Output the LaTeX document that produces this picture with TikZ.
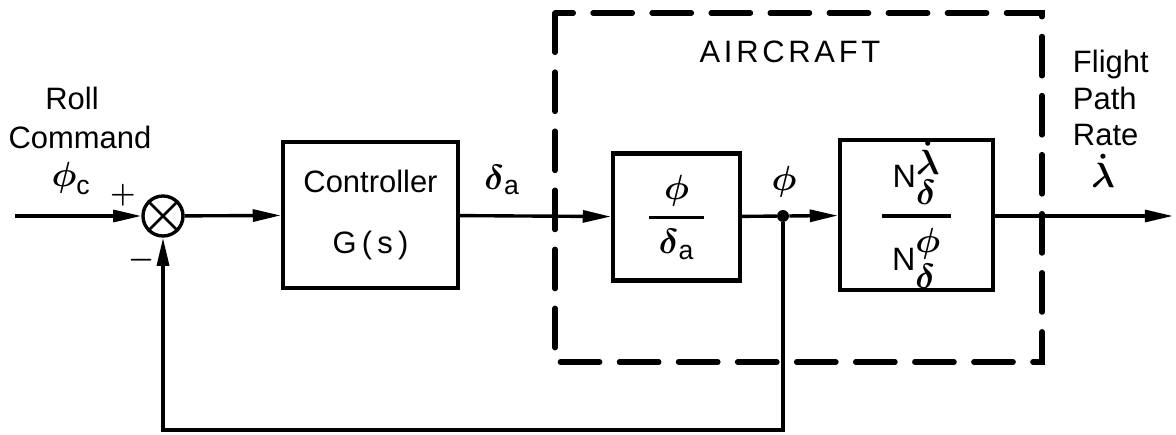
\documentclass[tikz,border=0pt]{standalone}
\usepackage{amsmath}
\usepackage{fontspec}
\setmainfont{Liberation Sans}
\usetikzlibrary{arrows.meta}
\usetikzlibrary{positioning}

\tikzset{
  block/.style={draw, line width=3pt, inner sep=0pt},
  signal/.style={line width=2.4pt, -{Triangle[length=20pt,width=8.5pt]}},
  wire/.style={line width=2.4pt},
  frame/.style={line width=3.8pt, line cap=round, dash pattern=on 28pt off 14pt},
  greek/.style={font=\fontsize{27}{30}\selectfont},
}

\begin{document}
\begin{tikzpicture}
	[x=0.025cm, y=-0.025cm, every node/.style={font=\fontsize{22}{26}\selectfont}]
	\useasboundingbox (0,0) rectangle (1176,434);
	% aircraft frame
	\draw[frame] (555,13) rectangle (1042,362);
	\node (aircraft) at (790,52) {\addfontfeature{LetterSpace=12}AIRCRAFT};
	% blocks
	\coordinate (in) at (15,216);
	\node[draw, circle, line width=2.4pt, minimum size=1cm, inner sep=0pt] (sum) at (163,216) {};
	\draw[line width=1.8pt] (sum.north east) -- (sum.south west) (sum.north west) -- (sum.south east);
	\node[block, minimum width=4.375cm, minimum height=3.65cm, align=center] (ctrl) at (370.5,215)
	  {Controller\\[18pt]G\,(\,s\,)};
	\node[block, minimum width=3.175cm, minimum height=3.175cm, greek] (ratio) at (676.5,217)
	  {$\genfrac{}{}{2.4pt}{0}{\;\boldsymbol{\phi}\;}{\;\boldsymbol{\delta}_{\text{a}}\;}$};
	\node[circle, fill, inner sep=3pt] (jct) at (783,216) {};
	\node[block, minimum width=3.825cm, minimum height=3.75cm, font=\fontsize{23}{26}\selectfont] (gain) at (916.5,215)
	  {$\genfrac{}{}{2.4pt}{0}{\;\text{N}^{\textstyle\boldsymbol{\dot\lambda}}_{\textstyle\boldsymbol{\delta}}\;}{\;\text{N}^{\textstyle\boldsymbol{\phi}}_{\textstyle\boldsymbol{\delta}}\;}$};
	\coordinate (out) at (1173,216);
	\coordinate (fb) at (163,430);
	% signals
	\draw[signal] (in) -- (sum);
	\draw[signal] (sum) -- (ctrl);
	\draw[signal] (ctrl) -- (ratio);
	\draw[wire] (ratio) -- (jct);
	\draw[signal] (jct) -- (gain);
	\draw[signal] (gain.east |- out) -- (out);
	\draw[signal] (jct) |- (fb) -- (sum);
	% labels
	\node (roll) at (72,98) {Roll};
	\node (cmd) at (80,137) {Command};
	\node[greek] (phic) at (71,178) {$\boldsymbol{\phi}_{\text{c}}$};
	\node (plus) at (123,195) {$\boldsymbol{+}$};
	\node (minus) at (142,260) {$\boldsymbol{-}$};
	\node[greek] (dela) at (502,180) {$\boldsymbol{\delta}_{\text{a}}$};
	\node[greek] (phi) at (784,182) {$\boldsymbol{\phi}$};
	\node[anchor=west, align=left] (fpr) at (1068,98) {Flight\\Path\\Rate};
	\node[greek] (lamd) at (1103,171) {$\boldsymbol{\dot\lambda}$};
\end{tikzpicture}
\end{document}
